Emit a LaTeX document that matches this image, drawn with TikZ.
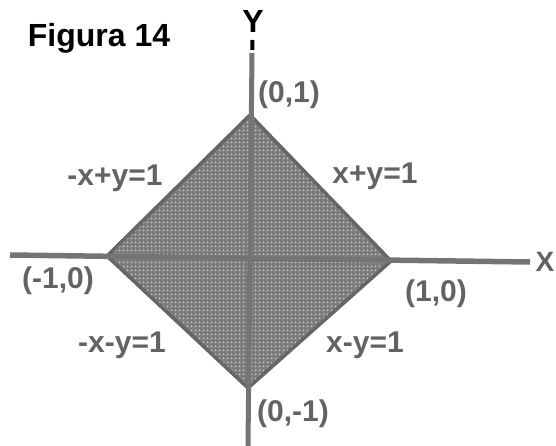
\documentclass[tikz,border=0pt]{standalone}
\usepackage{fontspec}
\setmainfont{Liberation Sans}
\usetikzlibrary{patterns.meta}
\definecolor{axisgray}{HTML}{747474}
\definecolor{edgegray}{HTML}{666666}
\definecolor{fillgray}{HTML}{7C7C7C}
\definecolor{dotgray}{HTML}{CFCFCF}
\definecolor{textgray}{HTML}{636363}
\begin{document}
\begin{tikzpicture}[x=1pt,y=-1pt,
  lbl/.style={font=\bfseries\fontsize{30}{30}\selectfont, text=textgray, inner sep=0pt},
  axisline/.style={draw=axisgray, line width=5.5pt},
  edgeline/.style={draw=edgegray, line width=3.5pt, line join=miter}]
\useasboundingbox (0,0) rectangle (556,446);
% vertices
\coordinate (T) at (250,115);
\coordinate (R) at (391,261);
\coordinate (B) at (248,388);
\coordinate (L) at (107,256);
% axis ends
\coordinate (xa) at (10,255);
\coordinate (xb) at (530,262);
\coordinate (ya) at (252,53);
\coordinate (yb) at (248,446);
\coordinate (da) at (252.5,40);
\coordinate (db) at (252.3,50);
% region
\fill[fillgray] (T) -- (R) -- (B) -- (L) -- cycle;
\fill[pattern={Dots[distance=4pt,radius=1.1pt]}, pattern color=dotgray] (T) -- (R) -- (B) -- (L) -- cycle;
\draw[edgeline] (T) -- (R) -- (B) -- (L) -- cycle;
% axes
\draw[axisline] (xa) -- (xb);
\draw[axisline, line width=5pt] (ya) -- (yb);
\draw[black, line width=4pt] (da) -- (db);
% labels
\node[font=\bfseries\fontsize{32}{32}\selectfont, inner sep=0pt] (fig) at (99,38) {Figura 14};
\node[font=\bfseries\fontsize{32}{32}\selectfont, inner sep=0pt] (ylab) at (253,21) {Y};
\node[lbl, font=\bfseries\fontsize{28}{28}\selectfont] (xlab) at (545,262) {X};
\node[lbl] (p01) at (289,95) {(0,1)};
\node[lbl] (p10) at (436,294) {(1,0)};
\node[lbl] (pm10) at (58,281) {(-1,0)};
\node[lbl] (p0m1) at (293,414) {(0,-1)};
\node[lbl] (e1) at (115,178) {-x+y=1};
\node[lbl] (e2) at (375,176) {x+y=1};
\node[lbl] (e3) at (122,345) {-x-y=1};
\node[lbl] (e4) at (365,345) {x-y=1};
\end{tikzpicture}
\end{document}
